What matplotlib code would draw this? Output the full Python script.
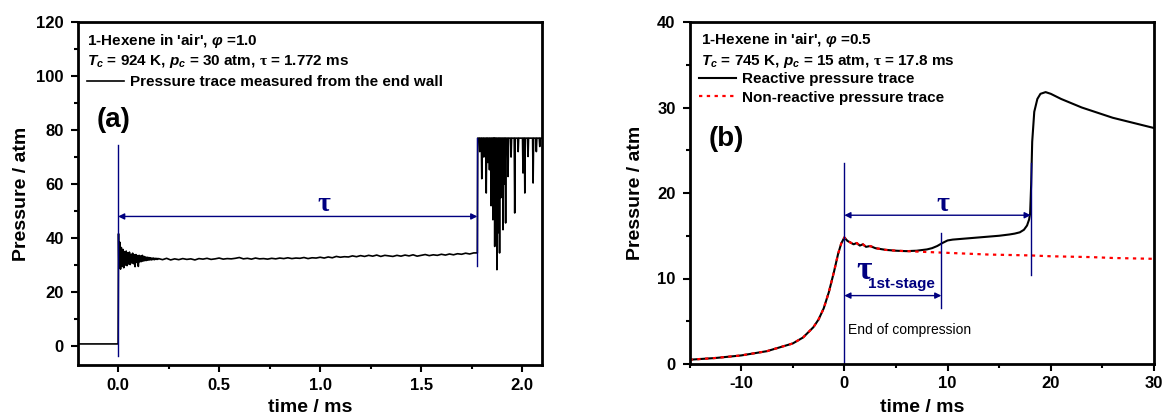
import numpy as np
import matplotlib
matplotlib.use("Agg")
import matplotlib.pyplot as plt
from matplotlib.ticker import MultipleLocator

plt.rcParams["font.family"] = ["Liberation Sans", "DejaVu Sans"]
plt.rcParams["font.weight"] = "bold"
plt.rcParams["mathtext.fontset"] = "custom"
plt.rcParams["mathtext.it"] = "Liberation Sans:italic:bold"
plt.rcParams["mathtext.rm"] = "Liberation Serif"
plt.rcParams["mathtext.bf"] = "Liberation Sans:bold"

NAVY = "#000080"

# ---------------- Panel (a): end-wall pressure trace ----------------
pre_time = [-0.2, 0.0]
pre_pressure = [0.8, 0.8]

peak_time = 0.002
peak_pressure = 41.6

# ringing right after end of compression, every 0.004 ms from 0.004 ms
ring_pressure = [29.0, 38.5, 28.5, 36.5, 29.5, 35.8, 29.0, 35.0, 30.0, 35.2,
                 29.8, 34.6, 30.4, 34.8, 30.2, 34.0, 30.8, 34.4, 30.5, 33.8,
                 29.4, 33.9, 31.0, 33.5, 29.5, 33.6, 31.2, 33.4, 31.3, 33.6,
                 31.5, 33.2, 31.6, 33.0, 31.7, 32.9, 31.8, 32.8, 31.9, 32.7,
                 31.9, 32.6, 32.0, 32.6, 32.0, 32.5, 32.1, 32.5, 32.1, 32.4]

# induction period, every 0.02 ms from 0.22 ms
induction_pressure = [32.0, 32.5, 31.9, 32.3, 32.0, 32.4, 32.1, 32.3, 31.9, 32.4,
                      32.2, 32.5, 32.1, 32.3, 32.6, 32.2, 32.4, 32.3, 32.5, 32.8,
                      32.3, 32.5, 32.2, 32.6, 32.3, 32.4, 32.2, 32.5, 32.3, 32.6,
                      32.4, 32.7, 32.4, 32.6, 32.5, 32.8, 32.4, 32.7, 32.6, 32.9,
                      32.6, 33.0, 32.7, 33.2, 32.9, 33.1, 33.0, 33.4, 33.1, 33.5,
                      33.2, 33.6, 33.3, 33.7, 33.2, 33.6, 33.4, 33.2, 33.6, 33.3,
                      33.7, 33.4, 33.8, 33.3, 33.6, 33.9, 33.5, 33.8, 33.6, 34.0,
                      33.7, 34.1, 33.8, 34.2, 34.0, 34.4, 34.1, 34.5]

ignition_time = 1.778
saturation_pressure = 77.0
# dips of the saturated signal after ignition
dip_time = [1.790, 1.800, 1.810, 1.822, 1.830, 1.838, 1.846, 1.855, 1.860, 1.864,
            1.870, 1.875, 1.881, 1.888, 1.895, 1.905, 1.912, 1.918, 1.930, 1.945,
            1.963, 1.980, 2.004, 2.013, 2.029, 2.054, 2.070, 2.087]
dip_pressure = [72.0, 62.0, 70.0, 56.7, 68.0, 65.3, 52.0, 46.8, 60.0, 36.9,
                48.0, 28.3, 42.0, 34.5, 55.0, 43.1, 60.0, 45.6, 62.8, 70.0,
                49.3, 72.0, 64.1, 56.7, 70.2, 60.4, 72.0, 73.9]
end_time_a = 2.1

tau_a = 1.778

# ---------------- Panel (b): reactive / non-reactive traces ----------------
time_b = [-15, -12.5, -10, -7.5, -5, -4, -3, -2.5, -2, -1.5, -1, -0.6, -0.3, 0,
          0.3, 0.6, 0.9, 1.2, 1.5, 1.8, 2.1, 2.5, 3, 4, 5, 6, 7, 8, 8.5, 9, 9.5,
          10, 10.5, 11, 12, 13, 14, 15, 16, 16.5, 17, 17.4, 17.7, 17.9, 18.0,
          18.1, 18.2, 18.4, 18.7, 19.0, 19.5, 20, 20.5, 21, 22, 23, 24, 25, 26,
          27, 28, 29, 30]
reactive_b = [0.5, 0.7, 1.0, 1.5, 2.4, 3.1, 4.3, 5.2, 6.5, 8.4, 10.8, 12.9, 14.1, 14.8,
              14.4, 14.2, 14.0, 14.15, 13.85, 14.0, 13.7, 13.8, 13.55, 13.35, 13.25,
              13.2, 13.25, 13.4, 13.55, 13.8, 14.15, 14.45, 14.55, 14.6, 14.7, 14.8,
              14.9, 15.0, 15.15, 15.25, 15.4, 15.7, 16.2, 16.9, 17.6, 21.0, 26.0,
              29.5, 31.0, 31.6, 31.8, 31.6, 31.3, 31.0, 30.5, 30.0, 29.6, 29.2,
              28.8, 28.5, 28.2, 27.9, 27.6]

time_nr = [-15, -12.5, -10, -7.5, -5, -4, -3, -2.5, -2, -1.5, -1, -0.6, -0.3, 0,
           0.3, 0.6, 0.9, 1.2, 1.5, 1.8, 2.1, 2.5, 3, 4, 5, 6, 7, 8, 10, 12, 14,
           16, 18, 20, 22, 24, 26, 28, 30]
nonreactive_b = [0.5, 0.7, 1.0, 1.5, 2.4, 3.1, 4.3, 5.2, 6.5, 8.4, 10.8, 12.9, 14.1, 14.8,
                 14.4, 14.2, 14.0, 14.15, 13.85, 14.0, 13.7, 13.8, 13.55, 13.35, 13.25,
                 13.2, 13.15, 13.1, 13.0, 12.9, 12.8, 12.75, 12.7, 12.6, 12.55, 12.5,
                 12.4, 12.35, 12.3]

tau_b = 18.06
tau_first_stage = 9.4

# ---------------- assemble trace (a) ----------------
ring_time = 0.004 * (np.arange(len(ring_pressure)) + 1)
induction_time = 0.22 + 0.02 * np.arange(len(induction_pressure))

t_a = list(pre_time) + [peak_time] + list(ring_time) + list(induction_time)
p_a = list(pre_pressure) + [peak_pressure] + list(ring_pressure) + list(induction_pressure)
t_a += [ignition_time, ignition_time + 0.002]
p_a += [p_a[-1], saturation_pressure]
half_width = 0.0025
for td, pd in zip(dip_time, dip_pressure):
    t_a += [td - half_width, td, td + half_width]
    p_a += [saturation_pressure, pd, saturation_pressure]
t_a.append(end_time_a)
p_a.append(saturation_pressure)

# ---------------- figure ----------------
W, H = 1164, 418
fig = plt.figure(figsize=(W / 100, H / 100), dpi=100)


def box(x0, y0, x1, y1):
    return [x0 / W, 1 - y1 / H, (x1 - x0) / W, (y1 - y0) / H]


ax1 = fig.add_axes(box(77.7, 22, 542.4, 365))
ax2 = fig.add_axes(box(689.5, 22, 1154, 364))

for ax in (ax1, ax2):
    for s in ax.spines.values():
        s.set_linewidth(2.0)
    ax.tick_params(which="major", direction="out", length=5, width=1.5,
                   labelsize=12, pad=4)
    ax.tick_params(axis="y", which="major", pad=5)
    ax.tick_params(which="minor", direction="out", length=3, width=1.5)


def label_axes(ax, left_px, bottom_px):
    w_px = ax.get_position().width * W
    h_px = ax.get_position().height * H
    ax.set_xlabel("time / ms", fontsize=14, fontweight="bold")
    ax.set_ylabel("Pressure / atm", fontsize=14, fontweight="bold")
    ax.xaxis.set_label_coords(0.5, -bottom_px / h_px)
    ax.yaxis.set_label_coords(-left_px / w_px, 0.5)
    ax.xaxis.label.set_va("center")
    ax.yaxis.label.set_va("center")


# panel (a)
ax1.plot(t_a, p_a, color="black", lw=1.2, label="Pressure trace measured from the end wall")
ax1.set_xlim(-0.2, 2.1)
ax1.set_ylim(-7, 120)
ax1.xaxis.set_minor_locator(MultipleLocator(0.25))
ax1.yaxis.set_minor_locator(MultipleLocator(10))
ax1.set_xticks([0.0, 0.5, 1.0, 1.5, 2.0])
ax1.set_xticklabels(["0.0", "0.5", "1.0", "1.5", "2.0"], fontweight="bold")
ax1.set_yticks([0, 20, 40, 60, 80, 100, 120])
ax1.set_yticklabels(["0", "20", "40", "60", "80", "100", "120"], fontweight="bold")
label_axes(ax1, 56, 42)

ax1.plot([0, 0], [-3.5, 74.5], color=NAVY, lw=1)
ax1.plot([tau_a, tau_a], [29.5, 77], color=NAVY, lw=1)
ax1.annotate("", xy=(0, 48), xytext=(tau_a, 48),
             arrowprops=dict(arrowstyle="<|-|>", color=NAVY, lw=1, mutation_scale=9,
                             shrinkA=0, shrinkB=0))
ax1.text(1.02, 52.6, "τ", color=NAVY, fontsize=20, ha="center", va="center",
         family="Liberation Serif", fontweight="bold")
ax1.text(-0.023, 83.8, "(a)", fontsize=20, fontweight="bold", ha="center", va="center")

fig.text(87 / W, 1 - 41 / H, r"1-Hexene in 'air', $\varphi$ =1.0", fontsize=11,
         fontweight="bold", va="center")
fig.text(87 / W, 1 - 62 / H, r"$T_c$ = 924 K, $p_c$ = 30 atm, $\mathrm{\tau}$ = 1.772 ms",
         fontsize=11, fontweight="bold", va="center")
ax1.legend(loc="upper left", bbox_to_anchor=(87 / W, 1 - 75 / H),
           bbox_transform=fig.transFigure, frameon=False,
           handlelength=2.4, handletextpad=0.4, borderpad=0, borderaxespad=0,
           prop={"weight": "bold", "size": 11})

# panel (b)
ax2.plot(time_b, reactive_b, color="black", lw=1.5, label="Reactive pressure trace")
ax2.plot(time_nr, nonreactive_b, color="red", lw=1.6, ls=(0, (1.5, 2.0)),
         label="Non-reactive pressure trace")
ax2.set_xlim(-15, 30)
ax2.set_ylim(0, 40)
ax2.set_xticks([-10, 0, 10, 20, 30])
ax2.set_xticklabels(["-10", "0", "10", "20", "30"], fontweight="bold")
ax2.xaxis.set_minor_locator(MultipleLocator(5))
ax2.set_yticks([0, 10, 20, 30, 40])
ax2.set_yticklabels(["0", "10", "20", "30", "40"], fontweight="bold")
ax2.yaxis.set_minor_locator(MultipleLocator(5))
label_axes(ax2, 54.5, 43)

ax2.plot([0, 0], [0, 23.5], color=NAVY, lw=1)
ax2.plot([tau_first_stage, tau_first_stage], [6.5, 15.3], color=NAVY, lw=1)
ax2.plot([tau_b, tau_b], [10.4, 23.5], color=NAVY, lw=1)
ax2.annotate("", xy=(0, 17.4), xytext=(tau_b, 17.4),
             arrowprops=dict(arrowstyle="<|-|>", color=NAVY, lw=1, mutation_scale=9,
                             shrinkA=0, shrinkB=0))
ax2.annotate("", xy=(0, 8.0), xytext=(tau_first_stage, 8.0),
             arrowprops=dict(arrowstyle="<|-|>", color=NAVY, lw=1, mutation_scale=9,
                             shrinkA=0, shrinkB=0))
ax2.text(9.55, 18.6, "τ", color=NAVY, fontsize=20, ha="center", va="center",
         family="Liberation Serif", fontweight="bold")
ax2.text(1.9, 10.9, "τ", color=NAVY, fontsize=24, ha="center", va="center",
         family="Liberation Serif", fontweight="bold")
ax2.text(2.3, 8.9, "1st-stage", color=NAVY, fontsize=11, ha="left", va="baseline",
         fontweight="bold")
ax2.text(0.35, 4.0, "End of compression", fontsize=10, fontweight="normal",
         ha="left", va="center")
ax2.text(-13.1, 26.3, "(b)", fontsize=20, fontweight="bold", ha="left", va="center")

fig.text(701 / W, 1 - 40 / H, r"1-Hexene in 'air', $\varphi$ =0.5", fontsize=11,
         fontweight="bold", va="center")
fig.text(701 / W, 1 - 61 / H, r"$T_c$ = 745 K, $p_c$ = 15 atm, $\mathrm{\tau}$ = 17.8 ms",
         fontsize=11, fontweight="bold", va="center")
ax2.legend(loc="upper left", bbox_to_anchor=(699 / W, 1 - 72 / H),
           bbox_transform=fig.transFigure, frameon=False,
           handlelength=2.4, handletextpad=0.4, borderpad=0, borderaxespad=0,
           labelspacing=0.3, prop={"weight": "bold", "size": 11})

fig.savefig("out.png", dpi=100)
